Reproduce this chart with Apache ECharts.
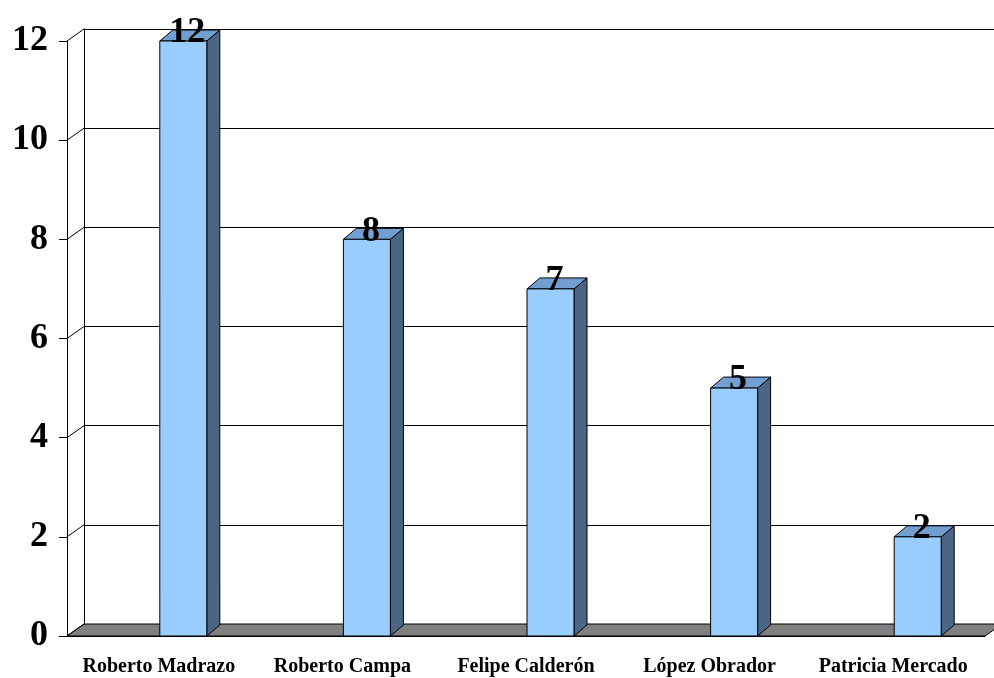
<!DOCTYPE html>
<html>
<head>
<meta charset="utf-8">
<script src="https://cdn.jsdelivr.net/npm/echarts@6/dist/echarts.min.js"></script>
<style>
  html, body { margin: 0; padding: 0; background: #ffffff; }
  #chart { width: 994px; height: 678px; }
</style>
</head>
<body>
<div id="chart"></div>
<script>
// Candidates and their counts
const categories = ['Roberto Madrazo', 'Roberto Campa', 'Felipe Calderón', 'López Obrador', 'Patricia Mercado'];
const counts = [12, 8, 7, 5, 2];
const yTicks = [0, 2, 4, 6, 8, 10, 12];

// Oblique depth of the back wall and of the bars (pixels)
const WALL_DX = 17, WALL_DY = -12;
const BAR_DX = 13, BAR_DY = -11;

const SERIF = '"Liberation Serif", "Times New Roman", serif';
const FRONT = '#99ccff', TOP = '#729fcf', SIDE = '#4b6585';

const chart = echarts.init(document.getElementById('chart'), null, { renderer: 'canvas' });

function renderBar(params, api) {
  const v = api.value(1);
  const base = api.coord([api.value(0), 0]);
  const top = api.coord([api.value(0), v]);
  const band = api.size([1, 0])[0];
  const w = band * 0.256;
  const x0 = base[0] + 1;
  const yt = top[1], yb = base[1];
  const st = { stroke: '#000', lineWidth: 1, lineJoin: 'round' };
  return {
    type: 'group',
    children: [
      { type: 'polygon', shape: { points: [[x0 + w, yt], [x0 + w + BAR_DX, yt + BAR_DY], [x0 + w + BAR_DX, yb + BAR_DY], [x0 + w, yb]] },
        style: Object.assign({ fill: SIDE }, st) },
      { type: 'polygon', shape: { points: [[x0, yt], [x0 + w, yt], [x0 + w + BAR_DX, yt + BAR_DY], [x0 + BAR_DX, yt + BAR_DY]] },
        style: Object.assign({ fill: TOP }, st) },
      { type: 'rect', shape: { x: x0, y: yt, width: w, height: yb - yt },
        style: Object.assign({ fill: FRONT }, st) },
      { type: 'text', z2: 10,
        style: { text: String(v), x: x0 + w / 2 + 4, y: yt - 8, align: 'center', verticalAlign: 'middle',
                 font: 'bold 36px ' + SERIF, fill: '#000' } }
    ]
  };
}

// Grey floor of the plot, drawn from the front grid's bounds
function renderFloor(params, api) {
  const cs = params.coordSys;
  const yb = cs.y + cs.height;
  return {
    type: 'polygon',
    shape: { points: [[cs.x, yb], [cs.x + cs.width, yb], [cs.x + cs.width + WALL_DX, yb + WALL_DY], [cs.x + WALL_DX, yb + WALL_DY]] },
    style: { fill: '#808080', stroke: '#000', lineWidth: 1 }
  };
}

// Short diagonals joining each front tick to its gridline on the back wall
function renderConnector(params, api) {
  const cs = params.coordSys;
  const p = api.coord([0, api.value(1)]);
  return {
    type: 'line',
    shape: { x1: cs.x, y1: p[1], x2: cs.x + WALL_DX, y2: p[1] + WALL_DY },
    style: { stroke: '#000', lineWidth: 1 }
  };
}

const option = {
  backgroundColor: '#ffffff',
  animation: false,
  grid: [
    { left: 67, right: 9, top: 41, bottom: 42 },
    { left: 67 + WALL_DX, right: 9 - WALL_DX, top: 41 + WALL_DY, bottom: 42 - WALL_DY }
  ],
  xAxis: [
    { gridIndex: 0, type: 'category', data: categories, boundaryGap: true,
      axisLine: { lineStyle: { color: '#000', width: 1 } },
      axisTick: { length: 6, interval: 0, lineStyle: { color: '#000' } },
      axisLabel: { interval: 0, margin: 21, color: '#000', fontFamily: SERIF, fontWeight: 'bold', fontSize: 20 } },
    { gridIndex: 1, type: 'category', data: categories, show: false }
  ],
  yAxis: [
    { gridIndex: 0, type: 'value', min: yTicks[0], max: yTicks[yTicks.length - 1], interval: yTicks[1] - yTicks[0],
      axisLine: { show: true, lineStyle: { color: '#000', width: 1 } },
      axisTick: { show: true, length: 8, lineStyle: { color: '#000' } },
      axisLabel: { margin: 19, color: '#000', fontFamily: SERIF, fontWeight: 'bold', fontSize: 36 },
      splitLine: { show: false } },
    { gridIndex: 1, type: 'value', min: yTicks[0], max: yTicks[yTicks.length - 1], interval: yTicks[1] - yTicks[0],
      axisLine: { show: true, lineStyle: { color: '#000', width: 1 } },
      axisTick: { show: false }, axisLabel: { show: false },
      splitLine: { show: true, lineStyle: { color: '#000', width: 1 } } }
  ],
  series: [
    { type: 'custom', xAxisIndex: 0, yAxisIndex: 0, renderItem: renderFloor, data: [[0, 0]], z: 1, silent: true },
    { type: 'custom', xAxisIndex: 0, yAxisIndex: 0, renderItem: renderConnector,
      data: yTicks.map(t => [0, t]), z: 1, silent: true },
    { type: 'custom', xAxisIndex: 0, yAxisIndex: 0, renderItem: renderBar,
      data: counts.map((c, i) => [i, c]), z: 3 }
  ]
};

chart.setOption(option);
</script>
</body>
</html>
